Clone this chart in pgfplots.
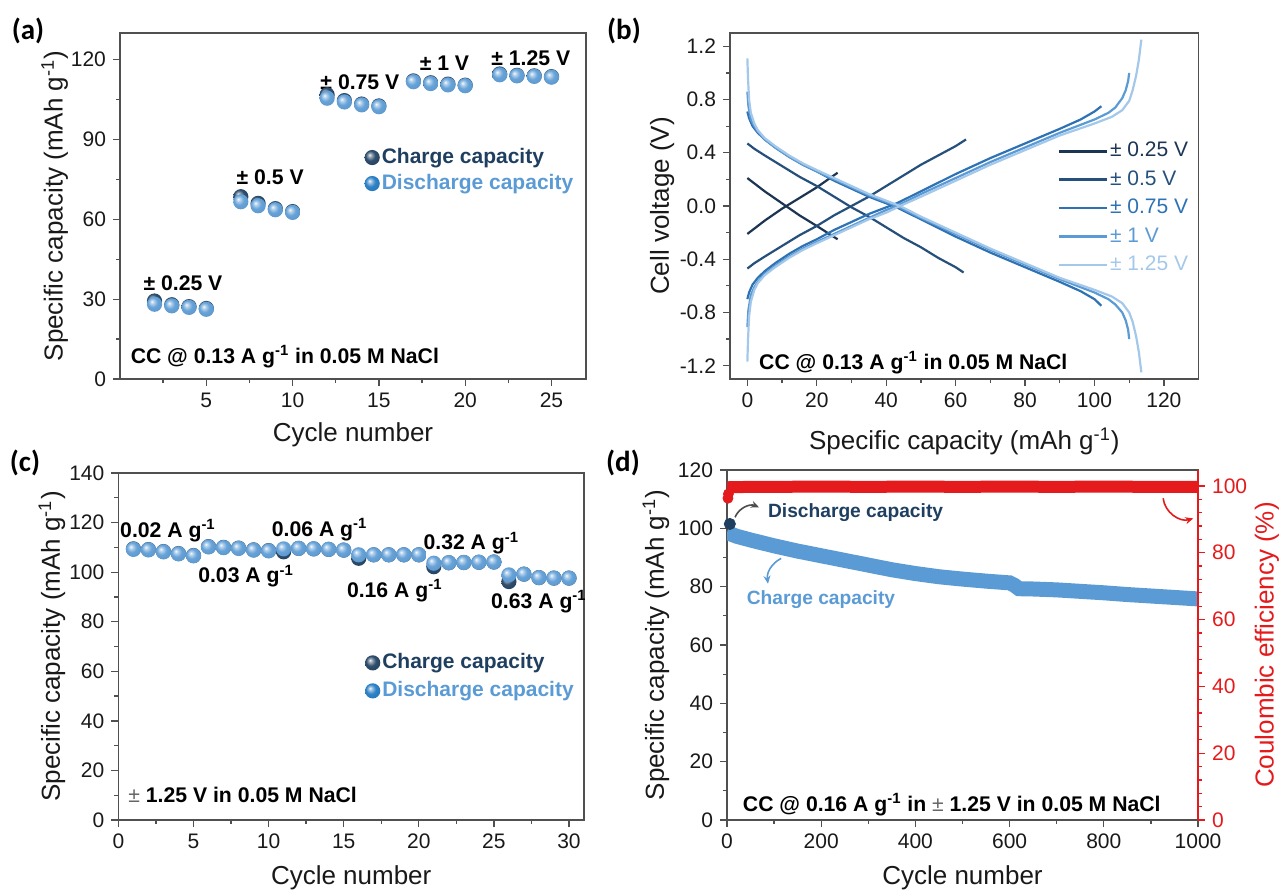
\documentclass[border=0pt]{standalone}
\usepackage{pgfplots}
\pgfplotsset{compat=1.18}
\usepackage{fontspec}
\setmainfont{Liberation Sans}
\newfontfamily\carlito{Carlito}
\usetikzlibrary{arrows.meta}

\definecolor{axisgray}{HTML}{505050}
\definecolor{navy}{HTML}{1F3F60}
\definecolor{lblue}{HTML}{5B9BD5}
\definecolor{mblue}{HTML}{1F78C1}
\definecolor{cA}{HTML}{1C3553}
\definecolor{cB}{HTML}{26507C}
\definecolor{cC}{HTML}{2E72B4}
\definecolor{cD}{HTML}{5B9BD5}
\definecolor{cE}{HTML}{A4C8EA}
\definecolor{cered}{HTML}{E41A1C}

\colorlet{ballc}{lblue}
\pgfdeclareradialshading[ballc]{lightball}{\pgfpoint{-9bp}{9bp}}{%
 color(0bp)=(ballc!5!white); color(6bp)=(ballc!45!white); color(16bp)=(ballc!92!white);
 color(38bp)=(ballc!93!black); color(50bp)=(ballc!85!black)}
\pgfdeclareplotmark{lball}{%
 \pgfpathcircle{\pgfpointorigin}{\pgfplotmarksize}%
 \pgfshadepath{lightball}{0}%
 \pgfusepath{}}
\tikzset{ballc/.code={\colorlet{ballc}{#1}}}

\pgfplotsset{base/.style={
  scale only axis, anchor=south west,
  axis line style={axisgray, line width=0.75pt},
  every tick/.style={axisgray, line width=0.65pt},
  major tick length=3.5pt, minor tick length=2pt,
  tick align=outside, tick pos=left,
  tick label style={font=\fontsize{10.5}{12}\selectfont, text=black!90},
  /pgf/number format/assume math mode=true,
  /pgf/number format/1000 sep={},
  label style={font=\fontsize{13}{15}\selectfont, text=black!90},
 },
 balllegend/.style={
  legend image code/.code={\draw[##1] plot coordinates {(0pt,0pt)};},
  legend cell align=left,
 }
}
\newcommand{\ann}{\bfseries\fontsize{10.6}{12}\selectfont}

\begin{document}
\begin{tikzpicture}
\path[use as bounding box] (0,0) rectangle (639.5pt,445pt);

% ---------------- (a) ----------------
\begin{axis}[base, balllegend, at={(60pt,255.5pt)}, width=233pt, height=173pt,
  xmin=0, xmax=27, ymin=0, ymax=130,
  xtick={5,10,15,20,25}, minor xtick={2.5,7.5,12.5,17.5,22.5},
  ytick={0,30,60,90,120}, minor ytick={15,45,75,105},
  xlabel={Cycle number}, ylabel={Specific capacity (mAh g\textsuperscript{-1})},
  xlabel style={at={(axis description cs:0.5,-0.16)}, anchor=center},
  ylabel style={at={(axis description cs:-0.14,0.5)}, anchor=center},
  legend style={at={(0.524,0.6025)}, anchor=west, draw=none, fill=none, inner sep=0pt,
    font=\bfseries\fontsize{10.5}{12}\selectfont, row sep=1pt,
    nodes={inner sep=1pt, text height=7.8pt, text depth=2.2pt}},
]
\addplot[only marks, mark=lball, mark size=3.8pt, mark options={ballc=navy}, forget plot] coordinates {
(2,29.3) (3,27.9) (4,27.2) (5,26.5)
(7,68.5) (8,66) (9,64) (10,62.9)
(12,106.8) (13,104.6) (14,103.3) (15,102.6)
(17,112) (18,111.3) (19,110.8) (20,110.4)
(22,114.6) (23,114.1) (24,113.9) (25,113.6)};
\addplot[only marks, mark=lball, mark size=3.8pt, mark options={ballc=lblue}, forget plot] coordinates {
(2,28.1) (3,27.5) (4,26.9) (5,26.2)
(7,66.6) (8,65.1) (9,63.6) (10,62.6)
(12,105.5) (13,104.1) (14,103) (15,102.3)
(17,111.7) (18,111) (19,110.5) (20,110.2)
(22,114.3) (23,113.9) (24,113.7) (25,113.4)};
\addlegendimage{only marks, mark=lball, mark size=3.8pt, mark options={ballc=navy}}
\addlegendentry{\textcolor{navy}{Charge capacity}}
\addlegendimage{only marks, mark=lball, mark size=3.8pt, mark options={ballc=mblue}}
\addlegendentry{\textcolor{lblue}{Discharge capacity}}
\node[font=\ann] at (axis cs:3.65,36) {± 0.25 V};
\node[font=\ann] at (axis cs:8.7,75.7) {± 0.5 V};
\node[font=\ann] at (axis cs:13.9,111.7) {± 0.75 V};
\node[font=\ann] at (axis cs:18.8,118.5) {± 1 V};
\node[font=\ann] at (axis cs:23.8,120.6) {± 1.25 V};
\node[font=\ann, anchor=west, inner sep=0pt] at (axis cs:0.6,8.3) {CC @ 0.13 A g\textsuperscript{-1} in 0.05 M NaCl};
\end{axis}

% ---------------- (b) ----------------
\begin{axis}[base, at={(365pt,255.5pt)}, width=234.3pt, height=173pt,
  xmin=-5, xmax=130, ymin=-1.3, ymax=1.3,
  xtick={0,20,40,60,80,100,120}, minor x tick num=1,
  ytick={-1.2,-0.8,-0.4,0,0.4,0.8,1.2}, minor y tick num=1,
  yticklabel style={/pgf/number format/.cd, fixed, fixed zerofill, precision=1},
  xlabel={Specific capacity (mAh g\textsuperscript{-1})}, ylabel={Cell voltage (V)},
  xlabel style={at={(axis description cs:0.5,-0.18)}, anchor=center},
  ylabel style={at={(axis description cs:-0.145,0.5)}, anchor=center},
  legend image code/.code={\draw[#1, line width=1.3pt] (0pt,0pt) -- (24pt,0pt);},
  legend cell align=left,
  legend style={at={(0.698,0.494)}, anchor=west, draw=none, fill=none, inner sep=0pt,
    font=\fontsize{10.5}{12}\selectfont, row sep=2.2pt,
    nodes={inner sep=1pt, text height=7.8pt, text depth=2.2pt}},
  every axis plot/.append style={line width=1.1pt},
]
\addplot[cA] coordinates {(0,-0.21) (2,-0.17) (5,-0.11) (10,-0.02) (15,0.06) (20,0.14) (26,0.25)};
\addlegendentry{\textcolor{cA}{± 0.25 V}}
\addplot[cA, forget plot] coordinates {(0,0.21) (2,0.17) (5,0.11) (10,0.02) (15,-0.07) (20,-0.15) (26,-0.25)};
\addplot[cB] coordinates {(0,-0.47) (2,-0.43) (5,-0.38) (10,-0.30) (15,-0.22) (20,-0.15) (25,-0.07) (30,0.0) (35,0.07) (40,0.15) (45,0.23) (50,0.31) (55,0.38) (60,0.45) (63,0.5)};
\addlegendentry{\textcolor{cB}{± 0.5 V}}
\addplot[cB, forget plot] coordinates {(0,0.47) (2,0.43) (5,0.38) (10,0.30) (15,0.22) (20,0.15) (25,0.07) (30,-0.01) (35,-0.08) (40,-0.16) (45,-0.24) (50,-0.31) (55,-0.39) (60,-0.46) (62.3,-0.5)};
\addplot[cC] coordinates {(0,-0.70) (0.5,-0.65) (1.5,-0.59) (3,-0.54) (5,-0.49) (8,-0.43) (12,-0.36) (16,-0.30) (20,-0.25) (25,-0.18) (30,-0.12) (35,-0.06) (40,-0.01) (43,0.02) (50,0.11) (60,0.24) (70,0.36) (80,0.47) (90,0.58) (96,0.65) (100,0.71) (102,0.75)};
\addlegendentry{\textcolor{cC}{± 0.75 V}}
\addplot[cC, forget plot] coordinates {(0,0.71) (0.5,0.66) (1.5,0.6) (3,0.55) (5,0.5) (8,0.44) (12,0.37) (16,0.31) (20,0.26) (25,0.19) (30,0.13) (35,0.07) (40,0.02) (43,-0.01) (50,-0.1) (60,-0.23) (70,-0.35) (80,-0.46) (90,-0.57) (96,-0.64) (100,-0.70) (102,-0.75)};
\addplot[cD] coordinates {(0,-0.91) (0.3,-0.78) (1,-0.67) (2,-0.61) (3,-0.57) (5,-0.51) (8,-0.45) (12,-0.38) (16,-0.32) (20,-0.27) (25,-0.21) (30,-0.15) (35,-0.09) (40,-0.03) (43,0) (50,0.09) (60,0.21) (70,0.33) (80,0.44) (90,0.55) (100,0.65) (104,0.70) (106,0.74) (108,0.81) (109,0.87) (109.7,0.94) (110,1.0)};
\addlegendentry{\textcolor{cD}{± 1 V}}
\addplot[cD, forget plot] coordinates {(0,0.86) (0.3,0.75) (1,0.65) (2,0.6) (3,0.56) (5,0.5) (8,0.44) (12,0.37) (16,0.31) (20,0.26) (25,0.2) (30,0.14) (35,0.08) (40,0.03) (43,0) (50,-0.09) (60,-0.21) (70,-0.33) (80,-0.44) (90,-0.55) (100,-0.65) (104,-0.70) (106,-0.74) (108,-0.80) (109,-0.86) (109.7,-0.93) (110,-1.0)};
\addplot[cE] coordinates {(0,-1.17) (0.2,-1.0) (0.5,-0.83) (1,-0.72) (2,-0.63) (3,-0.58) (5,-0.52) (8,-0.46) (12,-0.39) (16,-0.33) (20,-0.28) (25,-0.22) (30,-0.16) (35,-0.1) (40,-0.05) (44,0) (50,0.07) (60,0.19) (70,0.31) (80,0.42) (90,0.53) (100,0.62) (105,0.67) (108,0.72) (110,0.79) (111,0.87) (112,0.98) (112.8,1.1) (113.5,1.25)};
\addlegendentry{\textcolor{cE}{± 1.25 V}}
\addplot[cE, forget plot] coordinates {(0,1.11) (0.2,0.95) (0.5,0.8) (1,0.7) (2,0.62) (3,0.57) (5,0.51) (8,0.45) (12,0.38) (16,0.32) (20,0.27) (25,0.21) (30,0.15) (35,0.09) (40,0.04) (44,0) (50,-0.08) (60,-0.2) (70,-0.32) (80,-0.43) (90,-0.54) (100,-0.63) (105,-0.68) (108,-0.73) (110,-0.8) (111,-0.87) (112,-0.98) (112.8,-1.1) (113.5,-1.25)};
\node[font=\ann, anchor=west, inner sep=0pt] at (axis cs:3.3,-1.18) {CC @ 0.13 A g\textsuperscript{-1} in 0.05 M NaCl};
\end{axis}

% ---------------- (c) ----------------
\begin{axis}[base, balllegend, at={(59.2pt,35pt)}, width=232.8pt, height=173.5pt,
  xmin=0, xmax=31, ymin=0, ymax=140,
  xtick={0,5,...,30}, minor x tick num=1,
  ytick={0,20,...,140}, minor y tick num=1,
  xlabel={Cycle number}, ylabel={Specific capacity (mAh g\textsuperscript{-1})},
  xlabel style={at={(axis description cs:0.5,-0.167)}, anchor=center},
  ylabel style={at={(axis description cs:-0.1426,0.5)}, anchor=center},
  legend style={at={(0.529,0.4125)}, anchor=west, draw=none, fill=none, inner sep=0pt,
    font=\bfseries\fontsize{10.5}{12}\selectfont, row sep=2pt,
    nodes={inner sep=1pt, text height=7.8pt, text depth=2.2pt}},
]
\addplot[only marks, mark=lball, mark size=3.8pt, mark options={ballc=navy}, forget plot] coordinates {
(1,109.4) (2,109.1) (3,108.3) (4,107.5) (5,106.7)
(6,110.3) (7,110) (8,109.7) (9,109) (10,108.7)
(11,108.2) (12,109.6) (13,109.4) (14,109.2) (15,108.9)
(16,105.6) (17,107) (18,107) (19,107) (20,107)
(21,102.2) (22,103.8) (23,103.9) (24,104) (25,104.1)
(26,96.2) (27,99.2) (28,97.8) (29,97.6) (30,97.6)};
\addplot[only marks, mark=lball, mark size=3.8pt, mark options={ballc=lblue}, forget plot] coordinates {
(1,109.2) (2,109) (3,108.2) (4,107.4) (5,106.6)
(6,110.2) (7,109.9) (8,109.6) (9,108.9) (10,108.6)
(11,109.4) (12,109.6) (13,109.4) (14,109.2) (15,108.9)
(16,107) (17,107) (18,107) (19,107) (20,107)
(21,103.6) (22,103.8) (23,103.9) (24,104) (25,104.1)
(26,98.9) (27,99.2) (28,97.8) (29,97.6) (30,97.6)};
\addlegendimage{only marks, mark=lball, mark size=3.8pt, mark options={ballc=navy}}
\addlegendentry{\textcolor{navy}{Charge capacity}}
\addlegendimage{only marks, mark=lball, mark size=3.8pt, mark options={ballc=mblue}}
\addlegendentry{\textcolor{lblue}{Discharge capacity}}
\node[font=\ann] at (axis cs:3.3,116.6) {0.02 A g\textsuperscript{-1}};
\node[font=\ann] at (axis cs:8.5,98.4) {0.03 A g\textsuperscript{-1}};
\node[font=\ann] at (axis cs:13.4,117) {0.06 A g\textsuperscript{-1}};
\node[font=\ann] at (axis cs:18.4,92.4) {0.16 A g\textsuperscript{-1}};
\node[font=\ann] at (axis cs:23.5,111.7) {0.32 A g\textsuperscript{-1}};
\node[font=\ann] at (axis cs:28,88) {0.63 A g\textsuperscript{-1}};
\node[font=\ann, anchor=west, inner sep=0pt] at (axis cs:0.64,10.1) {{\mdseries\color{black!60}±} 1.25 V in 0.05 M NaCl};
\end{axis}

% ---------------- (d) ----------------
\begin{axis}[base, at={(363.5pt,35pt)}, width=235.5pt, height=175pt,
  xmin=0, xmax=1000, ymin=0, ymax=120,
  xtick={0,200,...,1000}, minor x tick num=1,
  ytick={0,20,...,120}, minor y tick num=1,
  xlabel={Cycle number}, ylabel={Specific capacity (mAh g\textsuperscript{-1})},
  xlabel style={at={(axis description cs:0.5,-0.166)}, anchor=center},
  ylabel style={at={(axis description cs:-0.151,0.5)}, anchor=center},
]
\addplot[only marks, mark=*, mark size=2.8pt, navy] coordinates {(6,101.5)};
\addplot[lblue, line width=7.5pt] coordinates {
(0,98.6) (20,97.3) (50,96) (100,94) (150,92.2) (200,90.6) (250,89) (300,87.4) (350,85.8)
(400,84.5) (450,83.4) (500,82.6) (550,81.9) (600,81.3) (610,80.5) (620,79.3) (650,79.2)
(700,78.9) (750,78.4) (800,77.9) (850,77.3) (900,76.8) (950,76.3) (1000,75.8)};
\draw[-{Stealth[length=4pt,width=3.5pt]}, black!70, line width=0.8pt] (axis cs:17,103.8) to[bend left=45] (axis cs:68,107.2);
\draw[-{Stealth[length=4pt,width=3.5pt]}, lblue, line width=0.8pt] (axis cs:115,89.7) to[bend right=35] (axis cs:87,81);
\draw[-{Stealth[length=4pt,width=3.5pt]}, cered, line width=0.8pt] (axis cs:926,110.3) to[bend right=50] (axis cs:990,103.4);
\node[font=\bfseries\fontsize{9.6}{11}\selectfont, text=navy] at (axis cs:273,105.3) {Discharge capacity};
\node[font=\bfseries\fontsize{9.6}{11}\selectfont, text=lblue] at (axis cs:199.5,75.5) {Charge capacity};
\node[font=\ann, anchor=west, inner sep=0pt] at (axis cs:33,5.2) {CC @ 0.16 A g\textsuperscript{-1} in {\mdseries\color{black!60}±} 1.25 V in 0.05 M NaCl};
\end{axis}
\begin{axis}[base, at={(363.5pt,35pt)}, width=235.5pt, height=175pt,
  xmin=0, xmax=1000, ymin=0, ymax=104.75,
  axis x line=none, axis y line*=right,
  ytick pos=right, yticklabel pos=right,
  ytick={0,20,...,100}, minor y tick num=4,
  every tick/.style={cered, line width=0.65pt},
  y axis line style={cered, line width=0.75pt},
  yticklabel style={text=cered},
  ylabel={Coulombic efficiency (\%)},
  ylabel style={at={(axis description cs:1.1465,0.5)}, anchor=center, text=cered},
]
\addplot[only marks, mark=*, mark size=2.5pt, cered] coordinates {(2,96.3) (3,97.6)};
\addplot[cered, line width=6pt] coordinates {
(4,98.8) (8,99.6) (50,99.7) (100,99.7) (200,99.8) (300,99.7) (400,99.8) (500,99.7)
(600,99.8) (700,99.7) (800,99.8) (900,99.7) (1000,99.7)};
\end{axis}

\node[font=\carlito\bfseries\fontsize{14.5}{16}\selectfont] at (14pt,429.5pt) {(a)};
\node[font=\carlito\bfseries\fontsize{14.5}{16}\selectfont] at (312pt,429.5pt) {(b)};
\node[font=\carlito\bfseries\fontsize{14.5}{16}\selectfont] at (12.5pt,213.5pt) {(c)};
\node[font=\carlito\bfseries\fontsize{14.5}{16}\selectfont] at (311.5pt,213.5pt) {(d)};
\end{tikzpicture}
\end{document}
